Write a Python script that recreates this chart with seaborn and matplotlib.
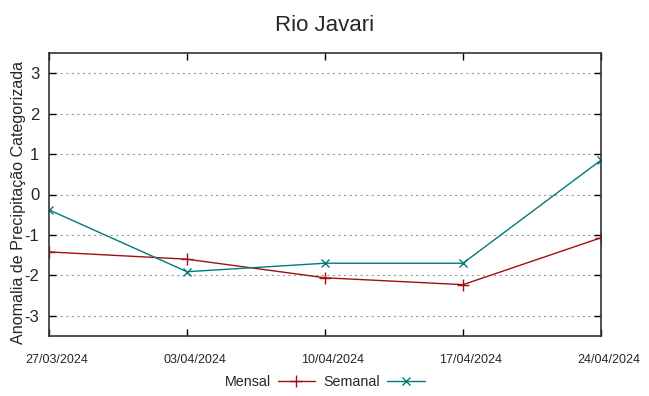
import matplotlib
matplotlib.use("Agg")
import matplotlib.pyplot as plt
import matplotlib.transforms as mtrans
import seaborn as sns
import pandas as pd

dates = ["27/03/2024", "03/04/2024", "10/04/2024", "17/04/2024", "24/04/2024"]
mensal = [-1.42, -1.60, -2.06, -2.23, -1.07]
semanal = [-0.38, -1.91, -1.70, -1.70, 0.85]
yticks = [-3, -2, -1, 0, 1, 2, 3]

sns.set_style("white")
plt.rcParams["font.family"] = ["Liberation Sans", "DejaVu Sans"]

d = pd.to_datetime(dates, format="%d/%m/%Y")

fig = plt.figure(figsize=(6.49, 3.96), dpi=100)
ax = fig.add_axes([49 / 649, 1 - 336 / 396, (601 - 49) / 649, (336 - 53) / 396])

c_m, c_s = "#a01010", "#007a7a"
sns.lineplot(x=d, y=mensal, color=c_m, marker="+", markersize=9,
             markeredgecolor=c_m, markeredgewidth=1.0, linewidth=1.0,
             label="Mensal", ax=ax, legend=False)
sns.lineplot(x=d, y=semanal, color=c_s, marker="x", markersize=6,
             markeredgecolor=c_s, markeredgewidth=1.0, linewidth=1.0,
             label="Semanal", ax=ax, legend=False)

ax.set_xlim(d[0], d[-1])
ax.set_ylim(-3.5, 3.5)
ax.set_yticks(yticks)
ax.set_yticklabels([str(v) for v in yticks], fontsize=12)
ax.set_xticks(d)
ax.set_xticklabels(dates, fontsize=9)
ax.tick_params(axis="both", direction="in", length=5, width=1, color="black",
               top=True, right=True, bottom=True, left=True)
ax.tick_params(axis="x", pad=13)
ax.tick_params(axis="y", pad=7)
offset = mtrans.ScaledTranslation(8 / 100, 0, fig.dpi_scale_trans)
for lab in ax.get_xticklabels():
    lab.set_transform(lab.get_transform() + offset)
ax.grid(True, axis="y", linestyle=(0, (2, 3)), color="#999999", linewidth=0.8)
ax.grid(False, axis="x")
for s in ax.spines.values():
    s.set_color("#333333")
    s.set_linewidth(1.2)

ax.set_xlabel("")
ax.set_ylabel("Anomalia de Precipitação Categorizada", fontsize=11.6)
ax.yaxis.set_label_coords(-0.042, 0.473)
ax.set_title("Rio Javari", fontsize=16, pad=16)

handles = ax.get_lines()[:2]
fig.legend(handles, ["Mensal", "Semanal"], loc="center",
           bbox_to_anchor=(0.5, 1 - 382 / 396),
           ncol=2, frameon=False, markerfirst=False, fontsize=10.3,
           handlelength=2.6, columnspacing=0.6, handletextpad=0.5,
           borderpad=0.1)

fig.savefig("out.png", dpi=100)
